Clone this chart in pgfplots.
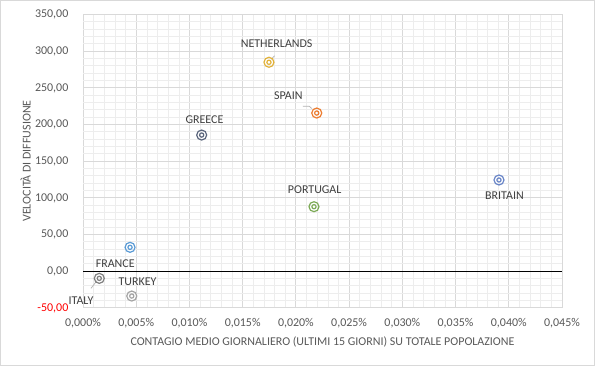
\documentclass[border=0pt]{standalone}
\usepackage{pgfplots}
\pgfplotsset{compat=1.18}
\usepackage{fontspec}
\setmainfont{Carlito}
\definecolor{tickgray}{HTML}{595959}
\definecolor{labgray}{HTML}{404040}
\definecolor{gridmaj}{HTML}{D9D9D9}
\definecolor{gridmin}{HTML}{EDEDED}
\definecolor{cItaly}{HTML}{808080}
\definecolor{cFrance}{HTML}{5B9BD5}
\definecolor{cTurkey}{HTML}{A5A5A5}
\definecolor{cGreece}{HTML}{5A657C}
\definecolor{cNeth}{HTML}{E2B23A}
\definecolor{cSpain}{HTML}{ED7D31}
\definecolor{cPortugal}{HTML}{7DAA57}
\definecolor{cBritain}{HTML}{6A86C8}
\pgfdeclareplotmark{target}{%
  \pgfpathcircle{\pgfpointorigin}{\pgfplotmarksize}\pgfusepathqstroke
  \pgfpathcircle{\pgfpointorigin}{0.42\pgfplotmarksize}\pgfusepathqstroke}
\pgfplotsset{
  pt/.style n args={4}{only marks, mark=target, mark size=5bp, line width=1.2bp,
    draw=#1, mark options={draw=#1, fill=none},
    nodes near coords={#2},
    nodes near coords style={anchor=center, inner sep=0pt, xshift=#3, yshift=#4,
      text=labgray, font=\fontsize{12}{14}\selectfont}},
}
\begin{document}
\begin{tikzpicture}
\useasboundingbox (0,0) rectangle (595bp,366bp);
\fill[white] (0,0) rectangle (595bp,366bp);
\draw[gridmaj, line width=0.8bp] (0.5bp,0.5bp) rectangle (594.5bp,365.5bp);
\begin{axis}[
  at={(83bp,58.3bp)}, anchor=south west,
  width=479bp, height=293.4bp, scale only axis,
  xmin=0, xmax=0.045, ymin=-50, ymax=350,
  axis line style={draw=none},
  tick style={draw=none},
  font=\fontsize{12}{14}\selectfont,
  scaled x ticks=false, scaled y ticks=false,
  xtick={0,0.005,0.01,0.015,0.02,0.025,0.03,0.035,0.04,0.045},
  xticklabels={{0,000\%},{0,005\%},{0,010\%},{0,015\%},{0,020\%},{0,025\%},{0,030\%},{0,035\%},{0,040\%},{0,045\%}},
  ytick={-50,0,50,100,150,200,250,300,350},
  yticklabels={{\color{red}-50,00},{0,00},{50,00},{100,00},{150,00},{200,00},{250,00},{300,00},{350,00}},
  minor x tick num=4, minor y tick num=4,
  grid=both,
  major grid style={draw=gridmaj, line width=0.8bp},
  minor grid style={draw=gridmin, line width=0.6bp},
  xticklabel style={anchor=base, inner sep=0pt, yshift=-19bp, text=tickgray},
  yticklabel style={anchor=base east, inner sep=0pt, xshift=-14.5bp, yshift=-3.6bp, text=tickgray},
  xlabel={CONTAGIO MEDIO GIORNALIERO (ULTIMI 15 GIORNI) SU TOTALE POPOLAZIONE},
  ylabel={VELOCITÀ DI DIFFUSIONE},
  every axis x label/.style={at={(rel axis cs:0.5,0)}, anchor=base, inner sep=0pt, yshift=-38bp, text=tickgray},
  every axis y label/.style={at={(rel axis cs:0,0.5)}, xshift=-52.3bp, rotate=90, anchor=base, inner sep=0pt, text=tickgray},
  clip=false,
]
\draw[black, line width=1bp] (axis cs:0,0) -- (axis cs:0.045,0);
\draw[gray!60, line width=0.7bp] (axis cs:0.00075,-23.6) -- (axis cs:0.00130,-13.3);
\draw[gray!60, line width=0.7bp] (axis cs:0.02065,224.7) -- (axis cs:0.02125,224.7) -- (axis cs:0.02150,221.5);
\draw[gray!60, line width=0.7bp] (axis cs:0.01768,288.5) -- (axis cs:0.01800,293.5);
\addplot[pt={cItaly}{ITALY}{-18.3bp}{-22.5bp}] coordinates {(0.00153,-10.0)};
\addplot[pt={cFrance}{FRANCE}{-14.8bp}{-16.0bp}] coordinates {(0.00442,32.3)};
\addplot[pt={cTurkey}{TURKEY}{5.8bp}{14.8bp}] coordinates {(0.00458,-34.1)};
\addplot[pt={cGreece}{GREECE}{2.8bp}{15.8bp}] coordinates {(0.01115,185.4)};
\addplot[pt={cNeth}{NETHERLANDS}{7.7bp}{19.0bp}] coordinates {(0.01747,284.6)};
\addplot[pt={cSpain}{SPAIN}{-28.4bp}{17.2bp}] coordinates {(0.02196,215.4)};
\addplot[pt={cPortugal}{PORTUGAL}{0.7bp}{16.9bp}] coordinates {(0.02170,87.7)};
\addplot[pt={cBritain}{BRITAIN}{5.5bp}{-15.8bp}] coordinates {(0.03908,124.1)};
\end{axis}
\end{tikzpicture}
\end{document}
